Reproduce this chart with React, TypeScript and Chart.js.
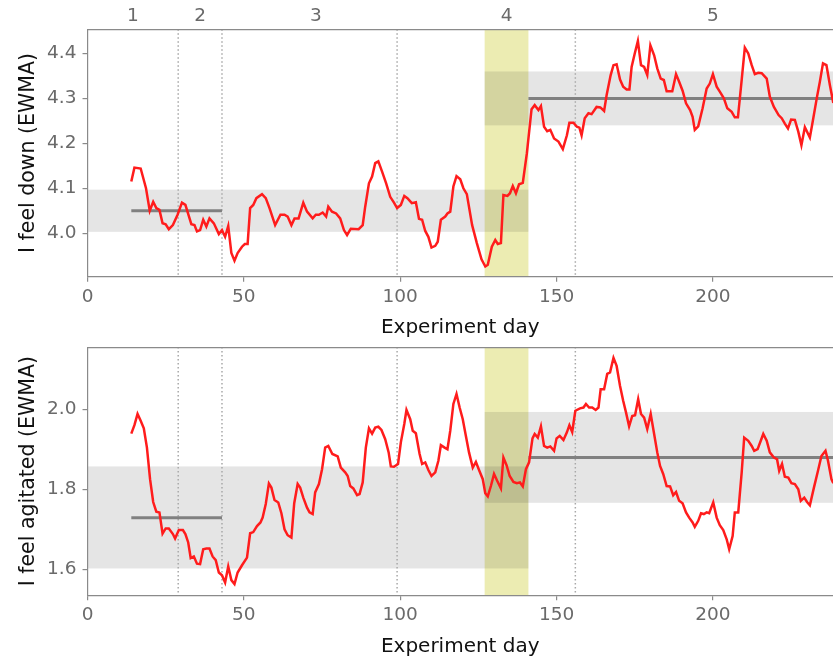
import React, { useEffect, useRef } from 'react';
import { Chart, registerables } from 'chart.js';

Chart.register(...registerables);
Chart.defaults.font.family = '"DejaVu Sans", sans-serif';

// ---------- data ----------
const downDays = [14, 15, 17, 18.7, 19.9, 21, 22, 23, 24, 25, 26, 27.3, 28.8, 30.2, 31.3, 33.2, 34.2, 35, 36, 37, 38, 39, 40.4, 42, 43, 44, 45, 46, 47, 48, 49.4, 50.3, 51.2, 52, 53, 54, 55.8, 57, 58.2, 60, 61.7, 63, 64, 65.2, 66.2, 67.5, 69, 70.2, 72, 73, 74, 75.2, 76.3, 77, 78.2, 79.5, 80.8, 82, 83, 84.2, 86.7, 88, 88.8, 90, 91, 92, 93, 94.2, 95.5, 96.8, 98, 99, 100.2, 101.3, 102.3, 103.7, 105, 106, 107, 108, 109, 110, 111.2, 112, 113, 114.4, 115.1, 116, 117, 118, 119.2, 120.2, 121.3, 123, 124.5, 126, 127.2, 128, 129.3, 130.4, 131.2, 132.2, 133, 134.3, 135.1, 136, 137, 138, 139.2, 140.5, 142, 143, 144.2, 145, 146, 147, 148, 149.2, 150.6, 152, 153.3, 154.1, 155.4, 156.5, 157.3, 158, 159, 160.2, 161.2, 162.8, 164, 165.2, 166, 167.3, 168.2, 169.2, 170.3, 171.3, 172.4, 173.3, 174, 175, 176, 177, 178, 179, 180, 181.2, 182.2, 183.3, 184.3, 185.2, 187, 188.2, 189.2, 190.3, 191.4, 192.7, 193.5, 194.2, 195.3, 196.7, 198, 199, 200, 201.2, 202.2, 203.5, 204.6, 206, 207, 208, 209.2, 210.2, 211.3, 212.4, 213.4, 214.5, 215.6, 217.2, 218.2, 219.5, 221, 222, 223, 224, 225, 226.2, 227.3, 228.3, 229.4, 231, 232, 233.3, 234.2, 235.2, 236.3, 237.4, 238.5];
const downValues = [4.115, 4.146, 4.144, 4.10, 4.05, 4.07, 4.056, 4.052, 4.022, 4.02, 4.009, 4.018, 4.041, 4.068, 4.063, 4.02, 4.018, 4.004, 4.007, 4.03, 4.015, 4.033, 4.022, 3.998, 4.007, 3.992, 4.016, 3.956, 3.939, 3.956, 3.97, 3.976, 3.976, 4.056, 4.063, 4.078, 4.087, 4.078, 4.056, 4.018, 4.041, 4.041, 4.037, 4.018, 4.033, 4.033, 4.068, 4.048, 4.033, 4.041, 4.041, 4.046, 4.037, 4.059, 4.048, 4.044, 4.033, 4.007, 3.996, 4.01, 4.009, 4.018, 4.059, 4.111, 4.126, 4.156, 4.16, 4.137, 4.111, 4.081, 4.068, 4.056, 4.063, 4.083, 4.078, 4.067, 4.069, 4.032, 4.03, 4.005, 3.992, 3.968, 3.972, 3.981, 4.03, 4.037, 4.044, 4.048, 4.104, 4.127, 4.12, 4.10, 4.087, 4.018, 3.978, 3.942, 3.926, 3.93, 3.97, 3.985, 3.976, 3.978, 4.085, 4.083, 4.089, 4.105, 4.089, 4.109, 4.112, 4.178, 4.276, 4.285, 4.274, 4.283, 4.237, 4.227, 4.23, 4.211, 4.204, 4.187, 4.218, 4.246, 4.246, 4.237, 4.235, 4.218, 4.256, 4.267, 4.265, 4.281, 4.28, 4.272, 4.307, 4.352, 4.374, 4.376, 4.342, 4.326, 4.32, 4.32, 4.37, 4.40, 4.428, 4.374, 4.37, 4.352, 4.418, 4.396, 4.367, 4.344, 4.341, 4.316, 4.316, 4.354, 4.337, 4.317, 4.289, 4.274, 4.259, 4.23, 4.238, 4.278, 4.322, 4.333, 4.354, 4.326, 4.315, 4.30, 4.278, 4.27, 4.258, 4.258, 4.341, 4.413, 4.40, 4.374, 4.354, 4.357, 4.356, 4.344, 4.304, 4.281, 4.263, 4.256, 4.244, 4.233, 4.253, 4.252, 4.226, 4.196, 4.236, 4.213, 4.252, 4.304, 4.337, 4.378, 4.374, 4.33, 4.29];

const agitDays = [14, 15, 16, 17, 18, 19, 20, 21, 22, 23, 24, 25, 26, 27.3, 28, 29.2, 30.5, 31.3, 32.2, 33, 34, 35, 36, 37, 38, 39, 40, 41, 42, 43, 44, 45, 46, 47, 48, 49.4, 51, 52, 53, 54.2, 55.3, 56, 57, 58, 58.8, 59.8, 61, 62, 63, 64, 65.2, 66.1, 67.2, 68, 69, 70.2, 71, 72, 72.8, 74, 75, 76, 77, 78.3, 80, 81, 82.4, 83.2, 84, 85, 86.2, 87, 88, 89, 90, 91, 92, 93, 94, 95.2, 96.3, 97, 98, 99.3, 100.2, 101.3, 102, 103.2, 104, 105, 106.2, 107, 108, 109, 110, 111.2, 112.2, 113, 114.2, 115.1, 116, 117, 118, 119, 120, 121, 122, 123.2, 124.2, 125.3, 126.4, 127.2, 128, 129, 130, 131, 132.2, 133, 134, 135, 136.2, 137.3, 138.3, 139.2, 140.2, 141.2, 142.3, 143, 144, 145, 146, 147, 148, 149.2, 150, 151, 152.2, 153.3, 154.1, 155, 156, 157.5, 158.6, 159.4, 160.4, 161.4, 162.5, 163.4, 164.1, 165.2, 166.2, 167.1, 168.2, 169.2, 170.3, 171.3, 172.2, 173.2, 174.2, 175.1, 176.1, 177, 178, 179, 180.1, 181.2, 182.2, 183.1, 184.1, 185.2, 186.3, 187.3, 188.2, 189.2, 190.3, 191.4, 192.4, 193.5, 194.2, 195.3, 196.2, 197.1, 198, 198.8, 200.1, 201.2, 202.2, 203.3, 204.4, 205.2, 206.3, 207, 208.1, 209.2, 210, 211.3, 212.4, 213.2, 214.3, 215.3, 216.1, 217.2, 218.2, 219.5, 220.5, 221.2, 222.1, 223, 224.1, 225.1, 226.2, 227.3, 228.1, 229.2, 230.1, 231, 232.3, 233.6, 234.7, 236, 236.8, 237.9, 238.5];
const agitValues = [1.939, 1.96, 1.988, 1.971, 1.952, 1.904, 1.825, 1.768, 1.744, 1.742, 1.689, 1.702, 1.702, 1.688, 1.677, 1.698, 1.698, 1.688, 1.667, 1.628, 1.632, 1.614, 1.613, 1.65, 1.652, 1.652, 1.632, 1.623, 1.592, 1.585, 1.567, 1.607, 1.573, 1.563, 1.592, 1.61, 1.629, 1.69, 1.693, 1.708, 1.717, 1.729, 1.763, 1.814, 1.804, 1.773, 1.767, 1.74, 1.70, 1.685, 1.679, 1.765, 1.813, 1.804, 1.779, 1.754, 1.742, 1.738, 1.792, 1.813, 1.85, 1.904, 1.908, 1.888, 1.882, 1.854, 1.842, 1.833, 1.808, 1.802, 1.785, 1.788, 1.817, 1.904, 1.952, 1.939, 1.954, 1.956, 1.948, 1.925, 1.892, 1.857, 1.856, 1.863, 1.917, 1.963, 1.998, 1.975, 1.946, 1.94, 1.888, 1.863, 1.867, 1.848, 1.833, 1.842, 1.871, 1.91, 1.904, 1.90, 1.946, 2.013, 2.038, 2.004, 1.975, 1.933, 1.892, 1.854, 1.868, 1.846, 1.825, 1.79, 1.782, 1.808, 1.838, 1.821, 1.802, 1.879, 1.86, 1.833, 1.818, 1.815, 1.817, 1.807, 1.85, 1.867, 1.927, 1.938, 1.929, 1.957, 1.908, 1.904, 1.907, 1.896, 1.927, 1.933, 1.923, 1.942, 1.96, 1.943, 1.996, 2.002, 2.004, 2.013, 2.004, 2.004, 1.998, 2.004, 2.05, 2.05, 2.088, 2.092, 2.128, 2.108, 2.058, 2.021, 1.992, 1.957, 1.983, 1.985, 2.025, 1.988, 1.979, 1.95, 1.988, 1.938, 1.892, 1.858, 1.838, 1.808, 1.807, 1.785, 1.793, 1.771, 1.765, 1.742, 1.729, 1.717, 1.706, 1.721, 1.74, 1.738, 1.742, 1.74, 1.767, 1.729, 1.71, 1.698, 1.675, 1.65, 1.683, 1.742, 1.742, 1.842, 1.929, 1.921, 1.908, 1.896, 1.90, 1.921, 1.938, 1.921, 1.892, 1.879, 1.875, 1.846, 1.863, 1.831, 1.829, 1.815, 1.813, 1.80, 1.771, 1.779, 1.768, 1.76, 1.804, 1.846, 1.883, 1.896, 1.871, 1.825, 1.815];

const xMin = 0;
const xMax = 238.4;
const xTickStep = 50;
const phaseLabels = ['1', '2', '3', '4', '5'];
const phaseCenters = [14.5, 36, 73, 134, 200];
const phaseBoundaries = [29, 43, 99, 156];
const interventionSpan = [127, 141];
const baselineBandSpan = [0, 141];
const followBandSpan = [127, 260];
const baselineMeanSpan = [14, 43];
const followMeanSpan = [141, 260];

const downBaselineBand = [4.003, 4.097];
const downBaselineMean = 4.05;
const downFollowBand = [4.24, 4.36];
const downFollowMean = 4.30;
const downYRange = [3.903, 4.454];

const agitBaselineBand = [1.602, 1.857];
const agitBaselineMean = 1.729;
const agitFollowBand = [1.766, 1.993];
const agitFollowMean = 1.879;
const agitYRange = [1.535, 2.155];

// ---------- styles ----------
const RED = '#ff1c1c';
const MEAN = '#808080';
const SPINE = '#8a8a8a';
const TICK = '#6a6a6a';
const TITLE = '#111111';
const TICK_FONT = { size: 18.5 };
const X_TITLE_FONT = { size: 20 };
const Y_TITLE_FONT = { size: 20.5 };

type Band = { span: number[]; range: number[] };
type Mean = { span: number[]; value: number };

interface PanelProps {
  days: number[];
  values: number[];
  yRange: number[];
  yStep: number;
  yTitle: string;
  bands: Band[];
  means: Mean[];
  showPhases: boolean;
  top: number;
  height: number;
  padding: { left: number; top: number; right: number; bottom: number };
}

function Panel(props: PanelProps) {
  const ref = useRef<HTMLCanvasElement>(null);
  useEffect(() => {
    const { days, values, yRange, yStep, yTitle, bands, means, showPhases, padding } = props;
    const background = {
      id: 'background',
      beforeDraw(chart: any) {
        const { ctx, chartArea: a } = chart;
        const x = chart.scales.x;
        const y = chart.scales.y;
        ctx.save();
        ctx.beginPath();
        ctx.rect(a.left, a.top, a.right - a.left, a.bottom - a.top);
        ctx.clip();
        const ix0 = x.getPixelForValue(interventionSpan[0]);
        const ix1 = x.getPixelForValue(interventionSpan[1]);
        ctx.fillStyle = 'rgba(191,191,0,0.3)';
        ctx.fillRect(ix0, a.top, ix1 - ix0, a.bottom - a.top);
        ctx.fillStyle = 'rgba(0,0,0,0.1)';
        for (const b of bands) {
          const px0 = x.getPixelForValue(b.span[0]);
          const px1 = x.getPixelForValue(b.span[1]);
          const py0 = y.getPixelForValue(b.range[1]);
          const py1 = y.getPixelForValue(b.range[0]);
          ctx.fillRect(px0, py0, px1 - px0, py1 - py0);
        }
        ctx.strokeStyle = '#a8a8a8';
        ctx.lineWidth = 1.5;
        ctx.setLineDash([1.5, 2.5]);
        for (const d of phaseBoundaries) {
          const px = x.getPixelForValue(d);
          ctx.beginPath();
          ctx.moveTo(px, a.top);
          ctx.lineTo(px, a.bottom);
          ctx.stroke();
        }
        ctx.restore();
      },
    };

    const datasets: any[] = [
      {
        data: days.map((d, i) => ({ x: d, y: values[i] })),
        borderColor: RED,
        borderWidth: 2.5,
        pointRadius: 0,
        tension: 0,
        order: 0,
      },
      ...means.map((m) => ({
        data: [
          { x: m.span[0], y: m.value },
          { x: m.span[1], y: m.value },
        ],
        borderColor: MEAN,
        borderWidth: 3,
        pointRadius: 0,
        order: 1,
      })),
    ];

    const chart = new Chart(ref.current as HTMLCanvasElement, {
      type: 'line',
      data: { datasets },
      plugins: [background],
      options: {
        responsive: false,
        animation: false,
        layout: { padding },
        plugins: { legend: { display: false }, tooltip: { enabled: false } },
        scales: {
          x: {
            type: 'linear',
            position: 'bottom',
            min: xMin,
            max: xMax,
            grid: { drawOnChartArea: false, drawTicks: true, tickLength: 5, color: SPINE, lineWidth: 1.2 },
            border: { display: true, color: SPINE, width: 1.2 },
            ticks: { stepSize: xTickStep, includeBounds: false, color: TICK, font: TICK_FONT, padding: 4, maxRotation: 0 },
            title: { display: true, text: 'Experiment day', color: TITLE, font: X_TITLE_FONT, padding: { top: 4, bottom: 0 } },
          },
          x2: {
            type: 'linear',
            position: 'top',
            min: xMin,
            max: xMax,
            grid: { display: false, drawTicks: false },
            border: { display: true, color: SPINE, width: 1.2 },
            afterBuildTicks: (axis: any) => {
              axis.ticks = phaseCenters.map((v) => ({ value: v }));
            },
            ticks: {
              display: showPhases,
              autoSkip: false,
              maxRotation: 0,
              padding: 2,
              color: TICK,
              font: TICK_FONT,
              callback: (_v: any, i: number) => phaseLabels[i],
            },
          },
          y: {
            type: 'linear',
            min: yRange[0],
            max: yRange[1],
            grid: { drawOnChartArea: false, drawTicks: true, tickLength: 5, color: SPINE, lineWidth: 1.2 },
            border: { display: true, color: SPINE, width: 1.2 },
            ticks: {
              stepSize: yStep,
              includeBounds: false,
              color: TICK,
              font: TICK_FONT,
              padding: 6,
              callback: (v: any) => Number(v).toFixed(1),
            },
            title: { display: true, text: yTitle, color: TITLE, font: Y_TITLE_FONT, padding: { top: 4, bottom: 0 } },
          },
        },
      } as any,
    });
    return () => chart.destroy();
  }, []);
  return (
    <div style={{ width: 833, height: props.height, position: 'absolute', left: 0, top: props.top }}>
      <canvas ref={ref} width={833} height={props.height} style={{ display: 'block' }} />
    </div>
  );
}

export default function App() {
  useEffect(() => {
    document.body.style.margin = '0';
  }, []);
  return (
    <div style={{ position: 'absolute', left: 0, top: 0, width: 833, height: 660, background: '#fff', overflow: 'hidden' }}>
      <Panel
        days={downDays}
        values={downValues}
        yRange={downYRange}
        yStep={0.1}
        yTitle="I feel down (EWMA)"
        bands={[
          { span: baselineBandSpan, range: downBaselineBand },
          { span: followBandSpan, range: downFollowBand },
        ]}
        means={[
          { span: baselineMeanSpan, value: downBaselineMean },
          { span: followMeanSpan, value: downFollowMean },
        ]}
        showPhases={true}
        top={0}
        height={340}
        padding={{ left: 12.5, top: 3, right: 0, bottom: 0 }}
      />
      <Panel
        days={agitDays}
        values={agitValues}
        yRange={agitYRange}
        yStep={0.2}
        yTitle="I feel agitated (EWMA)"
        bands={[
          { span: baselineBandSpan, range: agitBaselineBand },
          { span: followBandSpan, range: agitFollowBand },
        ]}
        means={[
          { span: baselineMeanSpan, value: agitBaselineMean },
          { span: followMeanSpan, value: agitFollowMean },
        ]}
        showPhases={false}
        top={330}
        height={330}
        padding={{ left: 12.5, top: 7, right: 0, bottom: 1.5 }}
      />
    </div>
  );
}
